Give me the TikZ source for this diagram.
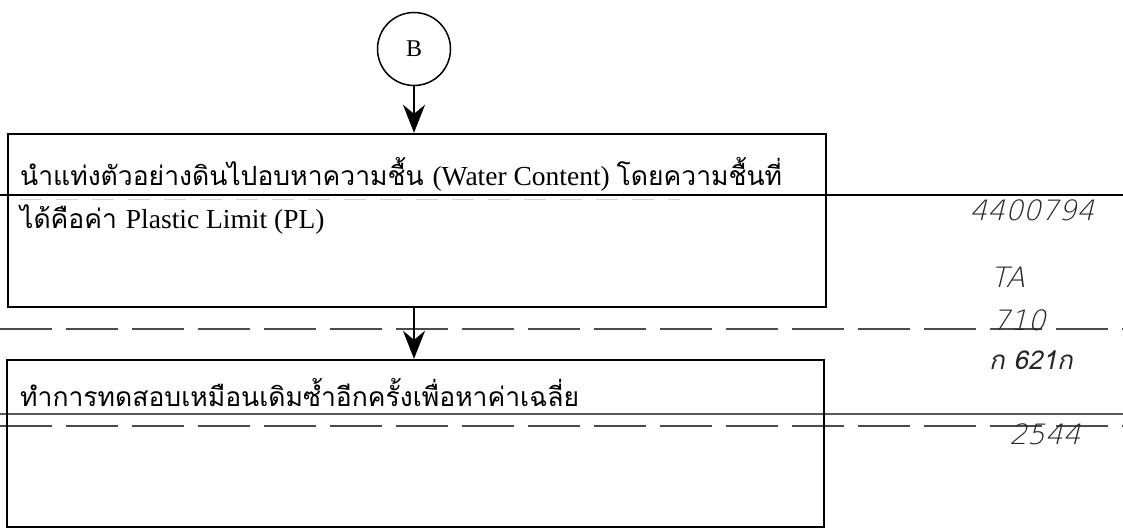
\documentclass[tikz,border=0pt]{standalone}
\usepackage{fontspec}
\setmainfont{Liberation Serif}
\newfontfamily\thai[Script=Thai]{Loma}
\newfontfamily\thaihand[Script=Thai, FakeSlant=0.2]{Loma}
\newfontfamily\lathand[FakeSlant=0.25]{DejaVu Sans ExtraLight}
\newcommand{\thaisz}{\thai\fontsize{26.5pt}{30pt}\selectfont}
\newcommand{\latsz}{\rmfamily\fontsize{27.5pt}{30pt}\selectfont}
\usetikzlibrary{arrows.meta}
\tikzset{
  boxline/.style={draw=black, line width=2.4pt},
  flowbox/.style={boxline, rectangle, inner sep=0pt},
  flowarrow/.style={line width=2.2pt, -{Stealth[length=28pt, width=22pt, inset=9pt]}},
  rule/.style={black, line width=1.6pt},
  grayrule/.style={black!65, line width=1.4pt},
  dashrule/.style={black!70, line width=1.4pt, dash pattern=on 52pt off 14pt},
  faintdash/.style={black!18, line width=0.9pt, dash pattern=on 22pt off 14pt},
  thaitext/.style={anchor=base west, inner sep=0pt},
  hand/.style={inner sep=0pt, black!85, font=\lathand\fontsize{28pt}{30pt}\selectfont},
}
\begin{document}
\begin{tikzpicture}[x=1pt, y=-1pt]
\useasboundingbox (0,0) rectangle (1123,532);
\fill[white] (0,0) rectangle (1123,532);

% page rule lines
\draw[rule] (0,195) -- (1123,195);
\draw[faintdash] (20,199) -- (680,199);
\draw[dashrule] (0,329) -- (1123,329);
\draw[grayrule] (0,414) -- (1123,414);
\draw[dashrule] (0,426) -- (1123,426);

% connector circle
\node[draw=black, line width=1.5pt, circle, minimum size=73pt, inner sep=0pt,
      font=\fontsize{24pt}{26pt}\selectfont] (B) at (414,49) {B};

% boxes
\node[flowbox, minimum width=818pt, minimum height=173pt] (box1) at (417,220.5) {};
\node[flowbox, minimum width=817pt, minimum height=167pt] (box2) at (415.5,443.5) {};

% texts
\node[thaitext] (t1) at (20,185) {\thaisz นำแท่งตัวอย่างดินไปอบหาความชื้น \latsz(Water Content) \thaisz โดยความชื้นที่};
\node[thaitext] (t2) at (20,228) {\thaisz ได้คือค่า \latsz Plastic Limit (PL)};
\node[thaitext] (t3) at (20,406) {\thaisz ทำการทดสอบเหมือนเดิมซ้ำอีกครั้งเพื่อหาค่าเฉลี่ย};

% connectors
\coordinate (a1end) at (box1.north -| B.south);
\draw[flowarrow] (B.south) -- (a1end);
\coordinate (a2start) at (box1.south -| B.south);
\coordinate (a2end) at (box2.north -| B.south);
\draw[flowarrow] (a2start) -- (a2end);

% handwritten marks
\node[hand] (h1) at (1032,210) {4400794};
\node[hand] (h2) at (1008,277) {TA};
\node[hand] (h3) at (1019,320) {710};
\node[hand, font=\thaihand\fontsize{26pt}{28pt}\selectfont] (h4) at (1031,360) {ก 621ก};
\node[hand] (h5) at (1045,434) {2544};
\end{tikzpicture}
\end{document}
